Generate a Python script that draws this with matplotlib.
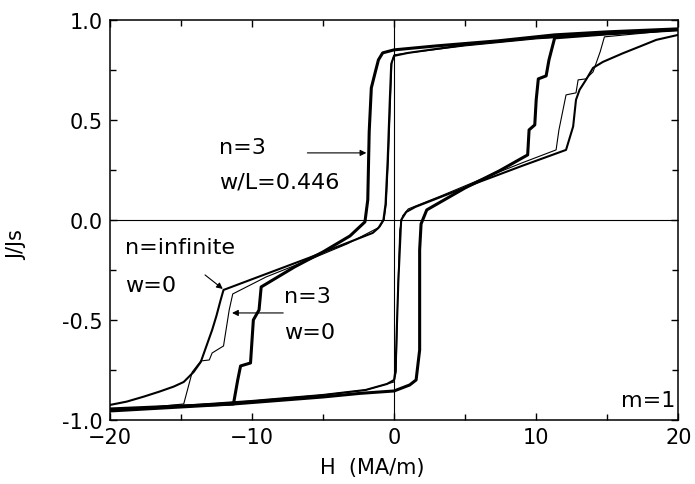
import numpy as np
import matplotlib.pyplot as plt
from matplotlib.ticker import MultipleLocator

# hysteresis loops J/Js vs H
# thick: n=3, w/L=0.446
thick_H = [20, 15, 11.3, 7.3, 3, 0, -0.8, -1.1, -1.3, -1.6, -1.75, -1.85, -2.05,
           -3.1, -5, -7, -9.35, -9.5, -9.9, -10.1, -10.8, -11.0, -11.3, -15, -20]
thick_J = [0.955, 0.94, 0.925, 0.895, 0.87, 0.85, 0.835, 0.80, 0.745, 0.66, 0.44, 0.10, -0.01,
           -0.08, -0.16, -0.235, -0.335, -0.45, -0.50, -0.715, -0.73, -0.80, -0.92, -0.935, -0.955]
thick_H_up = [-20, -15, -11.3, -5, -2.4, 0, 1.1, 1.55, 1.8, 1.8, 1.9, 2.3,
              5, 7.4, 9.4, 9.5, 9.9, 10.0, 10.15, 10.7, 10.9, 11.3, 15, 20]
thick_J_up = [-0.945, -0.93, -0.92, -0.885, -0.867, -0.855, -0.825, -0.80, -0.65, -0.15, -0.02, 0.05,
              0.16, 0.245, 0.325, 0.45, 0.475, 0.60, 0.705, 0.72, 0.80, 0.91, 0.93, 0.95]

# medium: n=infinite, w=0
inf_H = [20, 10, 5, 1, 0, -0.2, -0.3, -0.45, -0.6, -0.75, -1.1, -1.5, -3.3, -6, -9, -12.0,
         -12.2, -12.5, -12.8, -13.2, -13.6, -14.1, -14.8, -15.5, -16.5, -17.6, -18.8, -20]
inf_J = [0.95, 0.91, 0.875, 0.835, 0.82, 0.78, 0.60, 0.30, 0.08, 0.0, -0.04, -0.065, -0.115, -0.19, -0.27, -0.35,
         -0.40, -0.48, -0.55, -0.63, -0.71, -0.76, -0.81, -0.833, -0.858, -0.883, -0.908, -0.925]
inf_H_up = [-20, -15, -10, -5, -2, -0.5, 0, 0.1, 0.3, 0.5, 0.86, 1.5, 3.3, 6, 9, 12.1,
            12.6, 12.8, 13.05, 13.5, 14.0, 14.7, 16.1, 17.3, 18.45, 20]
inf_J_up = [-0.95, -0.93, -0.905, -0.875, -0.85, -0.82, -0.80, -0.75, -0.31, 0.0, 0.04, 0.065, 0.115, 0.19, 0.27, 0.35,
            0.467, 0.60, 0.65, 0.70, 0.76, 0.79, 0.833, 0.867, 0.90, 0.925]

# thin: n=3, w=0
thin_H = [20, 10, 5, 1, 0, -0.15, -0.25, -0.4, -0.55, -0.7, -1.0, -3.3, -6, -9, -11.35,
          -11.6, -12.0, -12.8, -13.0, -13.6, -14.2, -14.8, -17, -20]
thin_J = [0.95, 0.905, 0.87, 0.835, 0.825, 0.79, 0.60, 0.30, 0.08, 0.0, -0.035, -0.12, -0.20, -0.285, -0.37,
          -0.45, -0.63, -0.665, -0.70, -0.705, -0.76, -0.92, -0.935, -0.95]
thin_H_up = [-20, -15, -10, -5, -2, 0, 0.15, 0.25, 0.4, 0.6, 1.0, 3.3, 6, 9, 11.4,
             11.6, 12.1, 12.8, 12.95, 13.5, 14.0, 14.5, 14.8, 17, 20]
thin_J_up = [-0.95, -0.93, -0.905, -0.875, -0.85, -0.81, -0.76, -0.40, -0.05, 0.02, 0.055, 0.12, 0.20, 0.285, 0.35,
             0.45, 0.625, 0.635, 0.70, 0.705, 0.74, 0.84, 0.915, 0.93, 0.95]

plt.rcParams['font.family'] = ['DejaVu Sans']
fs = 15
fs_note = 16

fig = plt.figure(figsize=(6.95, 4.85), dpi=100)
ax = fig.add_axes([0.158, 0.132, 0.818, 0.825])

ax.axhline(0, color='k', lw=0.8)
ax.axvline(0, color='k', lw=0.8)

ax.plot(thin_H, thin_J, color='k', lw=0.8)
ax.plot(thin_H_up, thin_J_up, color='k', lw=0.8)
ax.plot(inf_H, inf_J, color='k', lw=1.5)
ax.plot(inf_H_up, inf_J_up, color='k', lw=1.5)
ax.plot(thick_H, thick_J, color='k', lw=2.2)
ax.plot(thick_H_up, thick_J_up, color='k', lw=2.2)

ax.set_xlim(-20, 20)
ax.set_ylim(-1.0, 1.0)
ax.xaxis.set_major_locator(MultipleLocator(10))
ax.xaxis.set_minor_locator(MultipleLocator(5))
ax.yaxis.set_major_locator(MultipleLocator(0.5))
ax.yaxis.set_minor_locator(MultipleLocator(0.25))
ax.yaxis.set_major_formatter(plt.FormatStrFormatter('%.1f'))
ax.tick_params(which='both', direction='in', top=True, right=True, labelsize=fs, pad=5, width=1)
ax.tick_params(which='major', length=5)
ax.tick_params(which='minor', length=4)
for s in ax.spines.values():
    s.set_linewidth(1.1)

ax.set_xlabel('H  (MA/m)', fontsize=fs)
ax.xaxis.set_label_coords(0.461, -0.0925)
ax.set_ylabel('J/Js', fontsize=fs)
ax.yaxis.set_label_coords(-0.146, 0.44)

arrow = dict(arrowstyle='-|>', color='k', lw=0.8, mutation_scale=9, shrinkA=0, shrinkB=0)

ax.text(-12.3, 0.365, 'n=3', fontsize=fs_note, va='center', ha='left')
ax.text(-12.3, 0.19, 'w/L=0.446', fontsize=fs_note, va='center', ha='left')
ax.annotate('', xy=(-1.95, 0.335), xytext=(-6.1, 0.335), arrowprops=arrow)

ax.text(-18.9, -0.133, 'n=infinite', fontsize=fs_note, va='center', ha='left')
ax.text(-18.9, -0.325, 'w=0', fontsize=fs_note, va='center', ha='left')
ax.annotate('', xy=(-12.05, -0.345), xytext=(-13.3, -0.275), arrowprops=arrow)

ax.text(-7.75, -0.38, 'n=3', fontsize=fs_note, va='center', ha='left')
ax.text(-7.75, -0.56, 'w=0', fontsize=fs_note, va='center', ha='left')
ax.annotate('', xy=(-11.4, -0.465), xytext=(-7.8, -0.465), arrowprops=arrow)

ax.text(19.8, -0.9, 'm=1', fontsize=fs_note, va='center', ha='right')

plt.savefig('out.png', dpi=100)
